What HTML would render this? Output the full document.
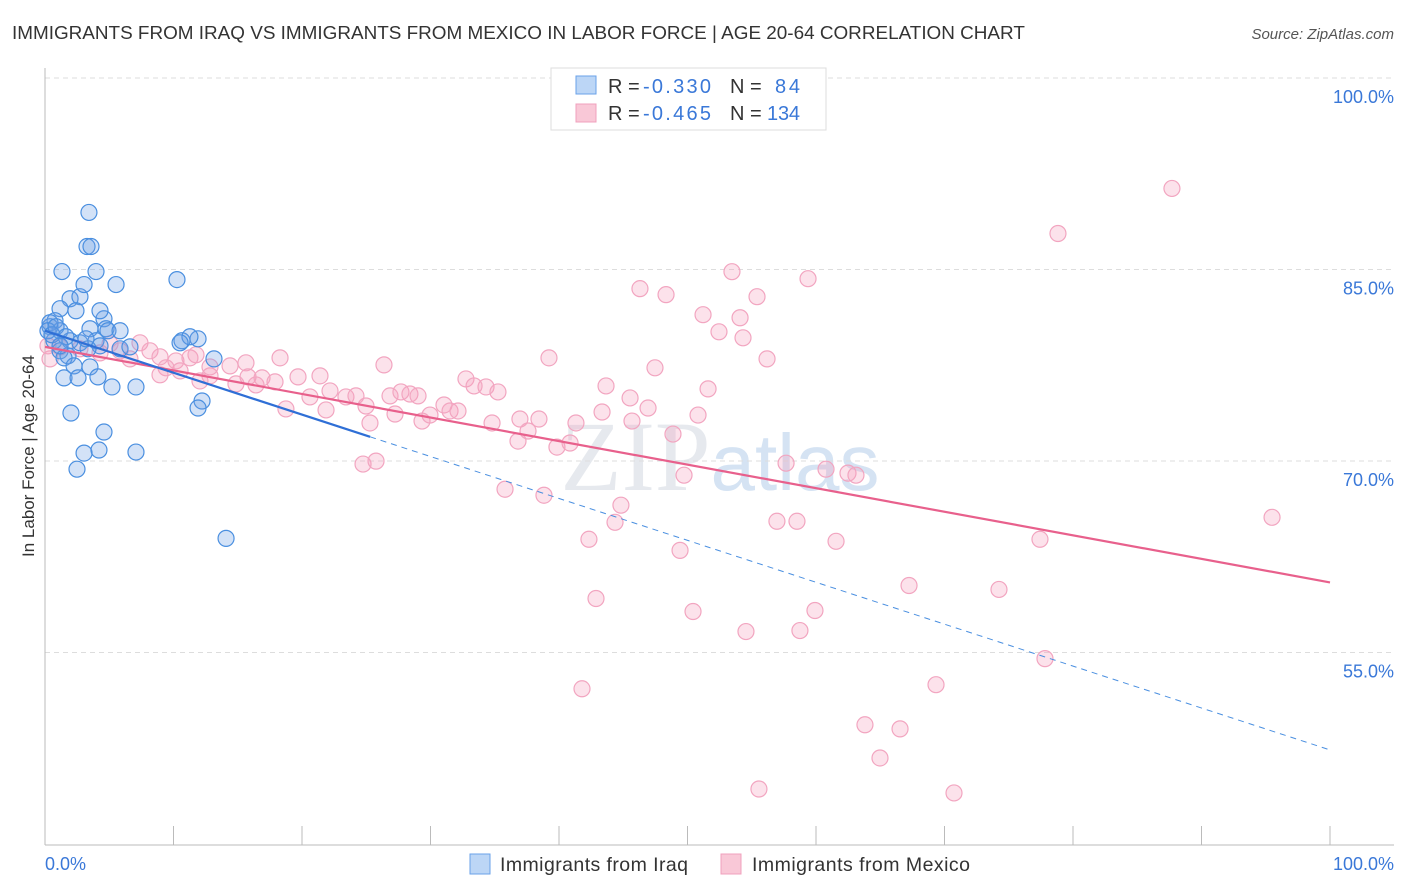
<!DOCTYPE html>
<html><head><meta charset="utf-8"><style>
body{margin:0;background:#fff;font-family:"Liberation Sans",sans-serif;}
#c{position:absolute;left:0;top:0;}
</style></head><body>
<svg id="c" width="1406" height="892" xmlns="http://www.w3.org/2000/svg">
<text x="12" y="39" font-size="18.9" fill="#333">IMMIGRANTS FROM IRAQ VS IMMIGRANTS FROM MEXICO IN LABOR FORCE | AGE 20-64 CORRELATION CHART</text>
<text x="1394" y="39" font-size="15" fill="#555" font-style="italic" text-anchor="end">Source: ZipAtlas.com</text>
<text x="720" y="490" font-size="100" fill="#e6e9ee" text-anchor="middle" font-family="Liberation Serif">ZIP<tspan fill="#d5e3f3" font-family="Liberation Sans" font-size="80">atlas</tspan></text>
<g id="grid"></g><g id="pts"></g><g id="trend"></g>
<text x="34" y="456" font-size="17" fill="#333" text-anchor="middle" transform="rotate(-90 34 456)">In Labor Force | Age 20-64</text>
<g>
<rect x="551" y="68" width="275" height="62" fill="#fff" stroke="#ddd"/>
<rect x="576" y="76" width="20" height="18" fill="#bcd6f6" stroke="#6aa2e8"/>
<rect x="576" y="104" width="20" height="18" fill="#f9c8d7" stroke="#f0a0bc"/>
<text y="93" font-size="20" fill="#333"><tspan x="608">R =</tspan><tspan x="643" fill="#3a78d8" textLength="68">-0.330</tspan><tspan x="730">N =</tspan><tspan x="775" fill="#3a78d8" textLength="25">84</tspan></text>
<text y="120" font-size="20" fill="#333"><tspan x="608">R =</tspan><tspan x="643" fill="#3a78d8" textLength="68">-0.465</tspan><tspan x="730">N =</tspan><tspan x="767" fill="#3a78d8" textLength="33">134</tspan></text>
</g>
<g>
<rect x="470" y="854" width="20" height="20" fill="#bcd6f6" stroke="#6aa2e8"/>
<text x="500" y="871" font-size="19.5" fill="#333" textLength="188">Immigrants from Iraq</text>
<rect x="721" y="854" width="20" height="20" fill="#f9c8d7" stroke="#f0a0bc"/>
<text x="752" y="871" font-size="19.5" fill="#333" textLength="218">Immigrants from Mexico</text>
</g>
</svg>
<script>
const Y_CAL = -1.5;
const yTicks = [100, 85, 70, 55];
const yTickLabels = ["100.0%", "85.0%", "70.0%", "55.0%"];
const xTickLabels = ["0.0%", "100.0%"];
const iraqX = [3.42,3.27,3.58,1.32,3.97,5.53,10.27,1.95,2.72,3.04,1.17,2.41,4.59,4.28,0.78,0.39,1.17,3.50,4.75,4.90,11.91,10.66,11.28,0.70,1.95,3.97,4.28,5.84,1.17,1.79,1.48,2.26,3.50,1.48,2.57,4.12,5.21,7.08,13.15,12.22,11.91,2.02,4.59,3.04,4.20,7.08,2.49,14.09,0.39,0.23,0.54,0.86,1.63,2.72,3.35,1.17,3.19,6.61,10.51,5.84];
const iraqY = [90.97,88.30,88.30,86.34,86.34,85.32,85.71,84.21,84.37,85.32,83.43,83.27,82.64,83.27,82.49,82.02,81.70,81.86,81.86,81.70,81.07,80.92,81.23,80.92,80.92,80.92,80.52,80.29,80.13,79.74,79.58,78.95,78.87,78.01,78.01,78.09,77.30,77.30,79.50,76.20,75.65,75.26,73.77,72.12,72.36,72.20,70.86,65.44,82.33,81.70,81.39,82.02,81.23,80.76,80.29,80.52,81.07,80.44,80.76,81.70];
const mexX = [87.70,78.83,53.46,59.38,46.30,48.33,55.41,51.21,54.09,52.45,54.32,39.22,56.19,26.38,47.47,43.66,51.60,32.76,34.32,35.25,33.39,45.53,43.35,46.93,45.68,50.82,38.44,41.32,36.96,34.79,36.81,37.59,39.84,40.86,48.87,57.67,60.78,62.49,63.11,49.73,24.75,25.76,35.80,38.83,44.82,44.36,42.33,56.96,58.52,61.56,77.43,95.49,49.42,67.24,74.24,42.88,50.43,59.92,54.55,58.75,77.82,41.79,69.34,63.81,66.54,64.98,55.56,70.74,7.39,8.17,8.95,10.19,11.28,11.75,12.84,14.40,15.64,15.80,14.86,16.89,17.90,18.29,19.69,21.40,22.18,23.42,24.20,24.98,26.85,27.70,28.40,29.03,27.24,29.34,29.96,31.05,31.52,32.14,21.87,18.75,20.62,25.29,16.42,12.84,10.51,9.42,6.61,5.84,4.28,2.72,1.17,0.39,0.23,5.06,8.95,12.06];
const mexY = [92.85,89.32,86.33,85.78,85.00,84.53,84.37,82.96,82.72,81.62,81.15,79.58,79.50,79.03,78.80,77.38,77.15,77.93,77.30,76.91,77.38,76.44,75.34,75.65,74.63,75.10,74.79,74.48,74.79,74.48,73.06,73.85,72.59,72.91,73.61,71.33,70.86,70.55,70.39,70.39,71.26,71.49,69.29,68.82,68.04,66.70,65.37,66.78,66.78,65.21,65.37,67.09,64.50,61.75,61.44,60.73,59.71,59.79,58.14,58.22,56.02,53.66,53.98,50.84,50.52,48.24,45.81,45.50,80.76,80.13,79.66,79.34,79.58,79.82,78.87,78.95,79.19,78.09,77.54,78.01,77.70,79.58,78.09,78.17,76.99,76.52,76.60,75.81,76.60,76.91,76.75,76.60,75.18,74.63,75.10,75.89,75.42,75.42,75.50,75.58,76.52,74.48,77.46,78.17,78.56,78.80,79.50,80.13,79.97,80.29,80.44,79.50,80.52,80.68,78.25,77.77];
const iraqTrend = [81.70, 48.87];
const mexTrend = [80.44, 61.99];
const NS = "http://www.w3.org/2000/svg";
const xs = v => 45 + v * 12.85;
const ys = v => 78 + (100 - (v + Y_CAL)) * 12.767;
const yg = v => 78 + (100 - v) * 12.767;
function mk(tag, attrs, parent){const e=document.createElementNS(NS,tag);for(const k in attrs)e.setAttribute(k,attrs[k]);parent.appendChild(e);return e;}
const grid=document.getElementById('grid');
yTicks.forEach((t,i)=>{
  const l=mk('line',{x1:45,x2:1394,y1:yg(t),y2:yg(t),stroke:'#ddd','stroke-dasharray':'5,4'},grid);
  
  
  const tx=mk('text',{x:1394,y:yg(t)+25,'font-size':18,fill:'#3a78d8','text-anchor':'end'},grid);
  tx.textContent=yTickLabels[i];
  
  
});
const ax=mk('line',{x1:45,x2:45,y1:68,y2:845,stroke:'#bbb'},grid);


const bx=mk('line',{x1:45,x2:1394,y1:845,y2:845,stroke:'#bbb'},grid);


for(let i=0;i<=10;i++){const t=mk('line',{x1:xs(i*10),x2:xs(i*10),y1:826,y2:845,stroke:'#bbb'},grid);
  
  }
[[0,'start',45],[100,'end',1394]].forEach((d,i)=>{const t=mk('text',{x:d[2],y:870,'font-size':18,fill:'#3a78d8','text-anchor':d[1]},grid);t.textContent=xTickLabels[i];
  
  });
const pts=document.getElementById('pts');
mexX.forEach((x,i)=>{const c=mk('circle',{cx:xs(x),cy:ys(mexY[i]),r:8,fill:'rgba(245,160,190,0.3)',stroke:'#f2a5c0','stroke-width':1.2},pts);
  
  });
iraqX.forEach((x,i)=>{const c=mk('circle',{cx:xs(x),cy:ys(iraqY[i]),r:8,fill:'rgba(110,160,230,0.3)',stroke:'#4a8fe0','stroke-width':1.2},pts);
  
  });
const tr=document.getElementById('trend');
const by=x=>iraqTrend[0]+(iraqTrend[1]-iraqTrend[0])*x/100;
const l1=mk('line',{x1:xs(0),y1:ys(mexTrend[0]),x2:xs(100),y2:ys(mexTrend[1]),stroke:'#e8608c','stroke-width':2.2},tr);


const l2=mk('line',{x1:xs(0),y1:ys(by(0)),x2:xs(25.3),y2:ys(by(25.3)),stroke:'#2f6fd6','stroke-width':2.2},tr);


const l3=mk('line',{x1:xs(25.3),y1:ys(by(25.3)),x2:xs(100),y2:ys(by(100)),stroke:'#4a8fe0','stroke-width':1,'stroke-dasharray':'6,5'},tr);


</script>
</body></html>
